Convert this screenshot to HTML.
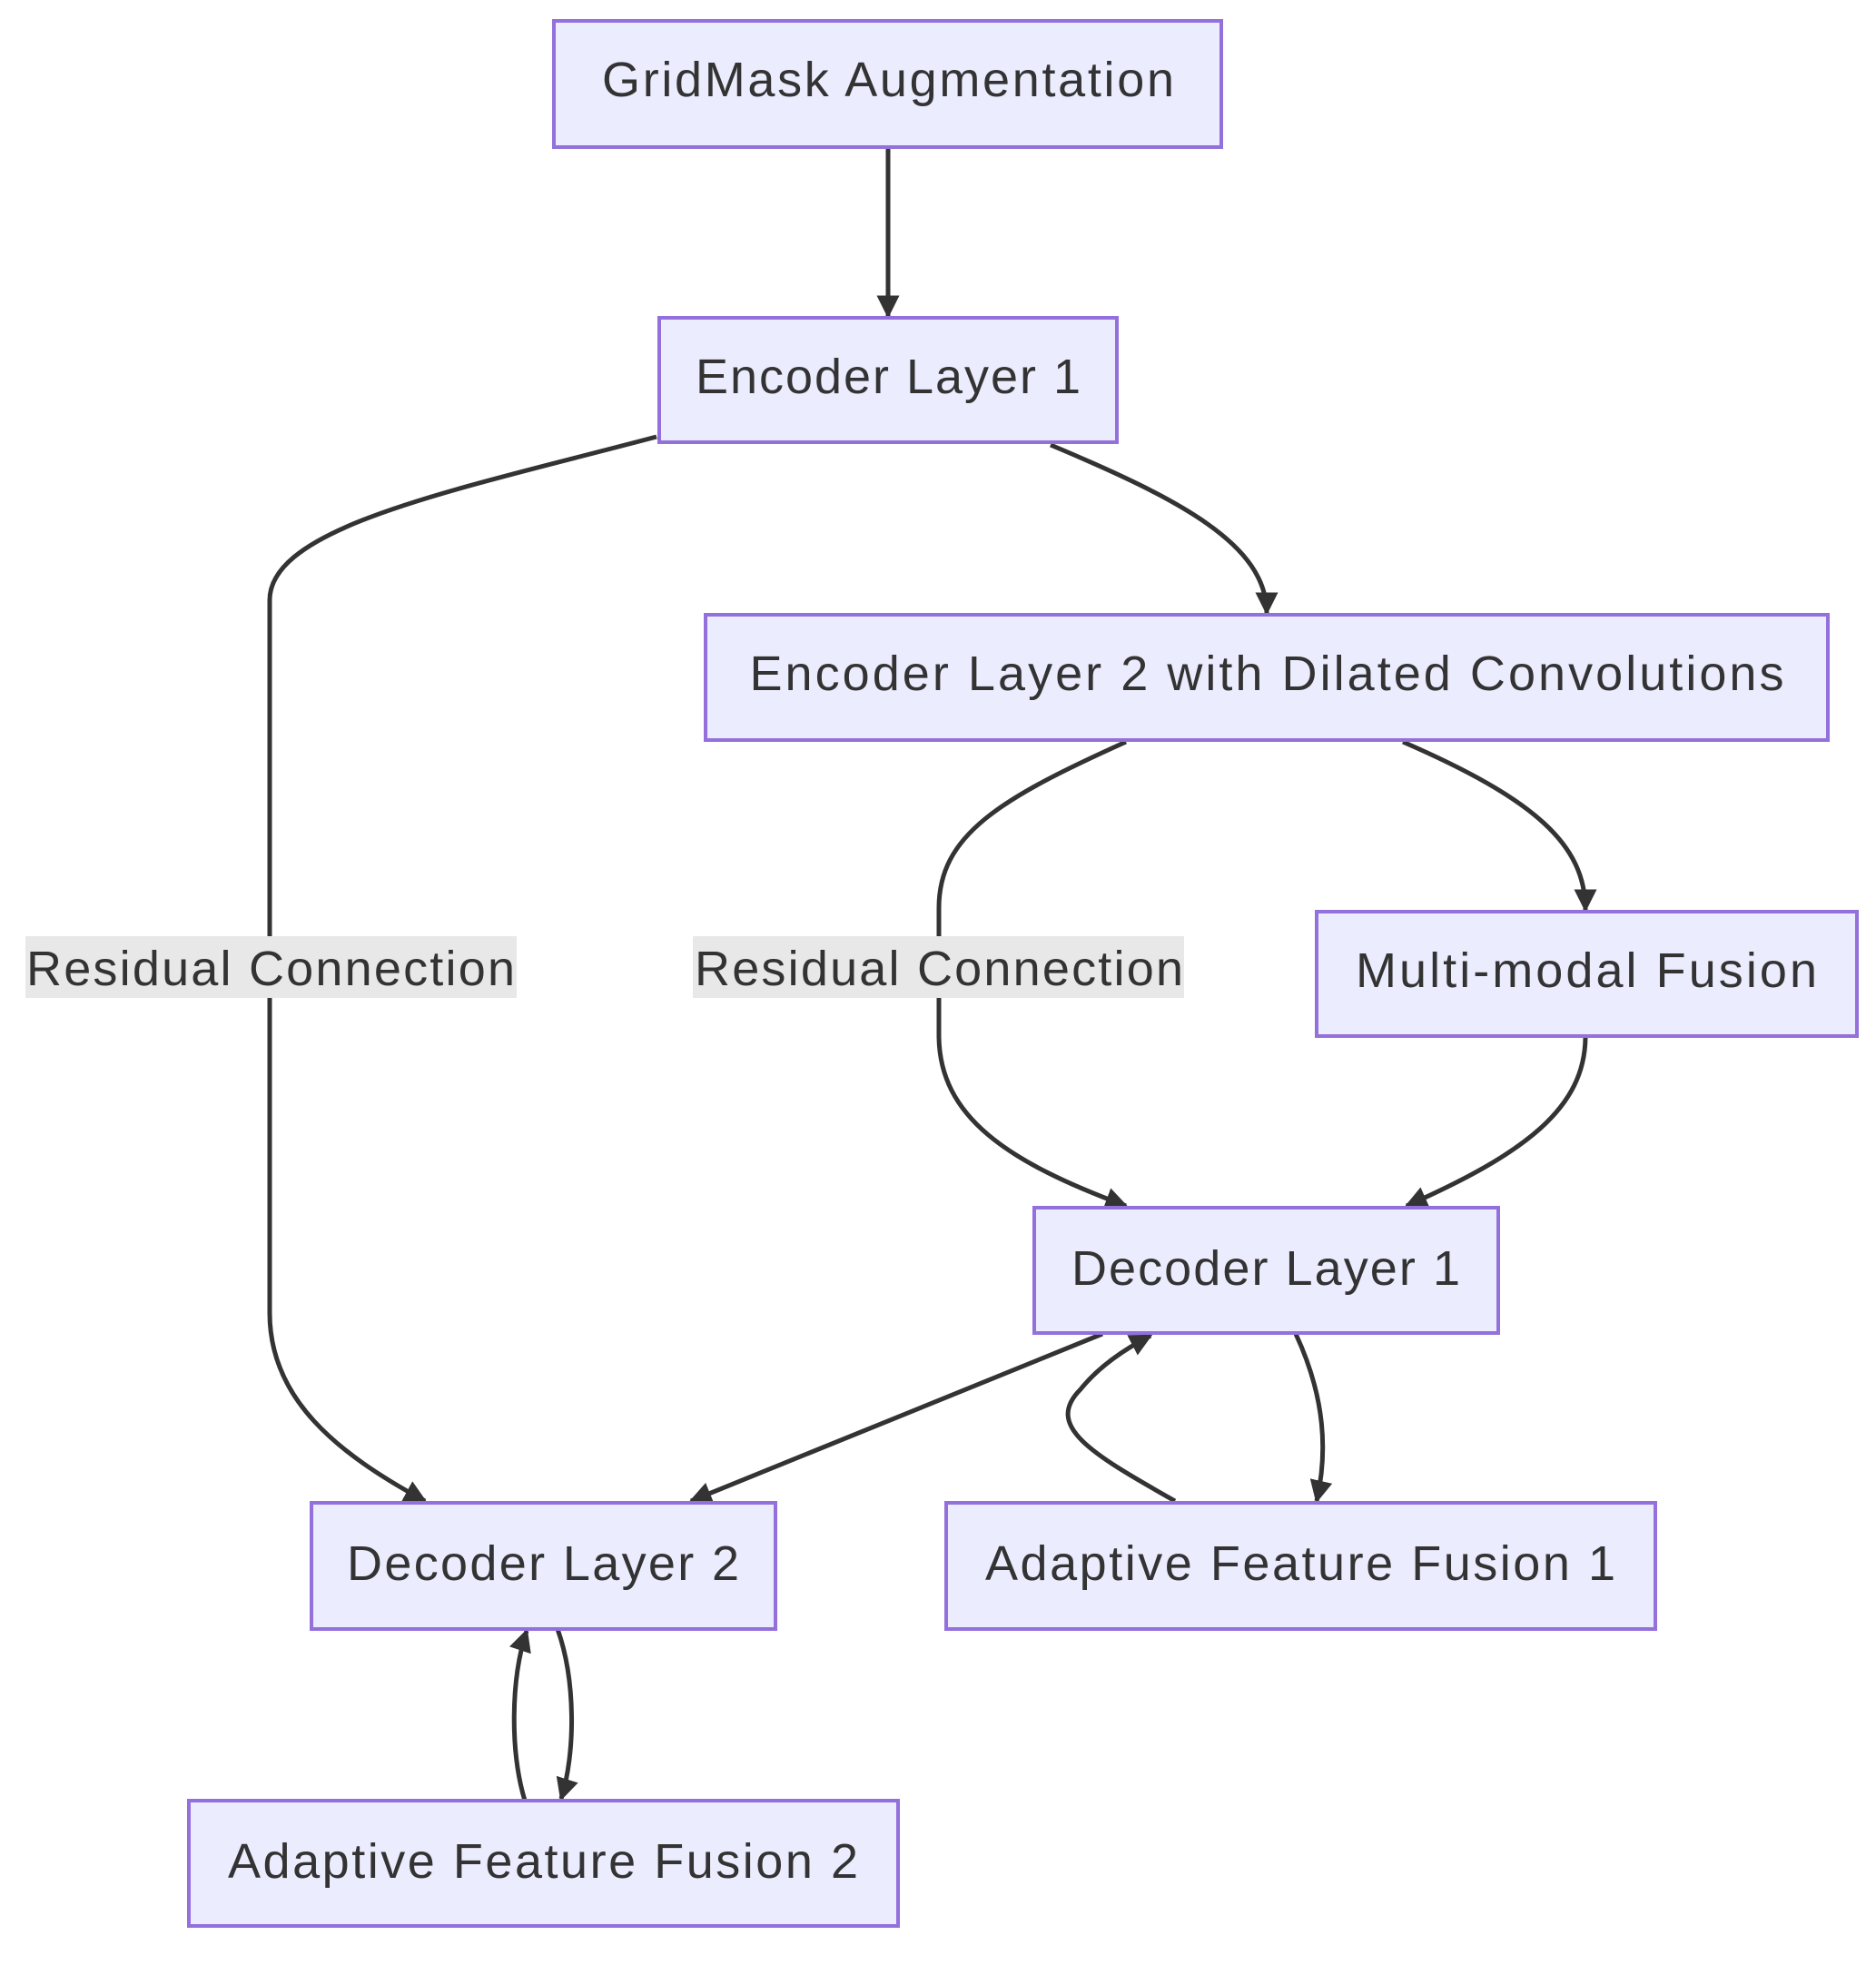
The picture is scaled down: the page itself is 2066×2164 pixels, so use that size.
<!DOCTYPE html>
<html><head><meta charset="utf-8"><style>
html,body{margin:0;padding:0;background:#fff;width:2066px;height:2164px;overflow:hidden}
svg text{font-family:"Liberation Sans",sans-serif;font-size:54px;fill:#333;dominant-baseline:central;text-anchor:middle}
</style></head><body>
<svg width="2066" height="2164" viewBox="0 0 2066 2164" xmlns="http://www.w3.org/2000/svg">
<defs><marker id="a" viewBox="0 0 10 10" refX="9" refY="5" markerWidth="5" markerHeight="5" orient="auto"><path d="M0,0L10,5L0,10z" fill="#333"/></marker></defs>
<g fill="none" stroke="#333" stroke-width="5" marker-end="url(#a)">
<path d="M978,162 L978,348"/>
<path d="M723,481 C500,540 297,580 297,661 L297,1446 C297,1540 370,1600 468,1653"/>
<path d="M1157,490 C1300,550 1395,600 1395,675"/>
<path d="M1240,817 C1100,880 1034,920 1034,1000 L1034,1140 C1034,1230 1110,1280 1240,1328"/>
<path d="M1545,817 C1690,880 1746,930 1746,1002"/>
<path d="M1746,1141 C1746,1220 1680,1270 1549,1328"/>
<path d="M1214,1469 L761,1653"/>
<path d="M1427,1469 C1460,1540 1462,1600 1450,1653"/>
<path d="M1294,1653 C1200,1600 1150,1570 1190,1530 C1210,1505 1240,1485 1267,1471"/>
<path d="M614,1794 C634,1850 634,1930 618,1981"/>
<path d="M578,1983 C562,1930 562,1850 580,1796"/>
</g>
<g fill="#ECECFF" stroke="#9370DB" stroke-width="4">
<rect x="610" y="23" width="735" height="139"/>
<rect x="726" y="350" width="504" height="137"/>
<rect x="777" y="677" width="1236" height="138"/>
<rect x="1450" y="1004" width="595" height="137"/>
<rect x="1139" y="1330" width="511" height="138"/>
<rect x="343" y="1655" width="511" height="139"/>
<rect x="1042" y="1655" width="781" height="139"/>
<rect x="208" y="1983" width="781" height="138"/>
</g>
<rect x="28" y="1031" width="541" height="68" fill="#e8e8e8"/>
<rect x="763" y="1031" width="541" height="68" fill="#e8e8e8"/>
<text x="978" y="88" textLength="630">GridMask Augmentation</text>
<text x="978" y="415" textLength="424">Encoder Layer 1</text>
<text x="1395" y="742" textLength="1139">Encoder Layer 2 with Dilated Convolutions</text>
<text x="1747" y="1069" textLength="508">Multi-modal Fusion</text>
<text x="298" y="1067" textLength="538">Residual Connection</text>
<text x="1034" y="1067" textLength="538">Residual Connection</text>
<text x="1394" y="1397" textLength="428">Decoder Layer 1</text>
<text x="598" y="1722" textLength="432">Decoder Layer 2</text>
<text x="1432" y="1722" textLength="694">Adaptive Feature Fusion 1</text>
<text x="598" y="2050" textLength="694">Adaptive Feature Fusion 2</text>
</svg>
</body></html>
